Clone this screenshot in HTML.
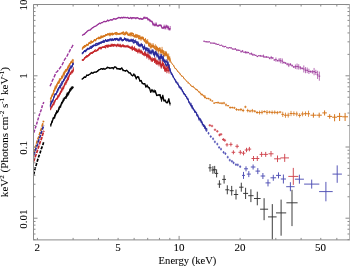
<!DOCTYPE html>
<html><head><meta charset="utf-8"><style>
html,body{margin:0;padding:0;background:#fff;width:350px;height:266px;overflow:hidden;}
svg{display:block;font-family:"Liberation Serif",serif;}
</style></head><body>
<svg width="350" height="266" viewBox="0 0 350 266">
<rect width="350" height="266" fill="#fff"/>
<g><path d="M33.75,132.65L35.10,128.66L36.31,125.04L37.42,121.27L38.66,117.28L39.92,113.03L41.28,109.85L42.44,105.34L43.84,102.15" stroke="#9c389c" stroke-width="1.5" fill="none" stroke-dasharray="3 1.3"/><path d="M33.72,152.40L35.11,148.11L36.33,144.41L37.38,140.31L38.69,137.07L39.92,132.89L41.32,128.75L42.55,124.50L43.67,120.71" stroke="#d5761c" stroke-width="1.7" fill="none" stroke-dasharray="3.5 1"/><path d="M33.75,155.43L34.91,151.77L36.21,147.67L37.58,144.26L38.67,140.32L40.02,136.81L41.34,132.41L42.68,128.43L43.78,125.26" stroke="#2a2a9c" stroke-width="1.7" fill="none" stroke-dasharray="3.5 1"/><path d="M33.60,161.49L34.85,157.79L36.35,153.82L37.68,149.69L38.91,146.09L40.16,142.08L41.53,138.69L42.70,134.54L43.87,130.70" stroke="#c4262a" stroke-width="1.7" fill="none" stroke-dasharray="3.5 1"/><path d="M33.74,174.49L35.08,168.45L36.24,164.82L37.42,160.68L38.75,156.44L40.01,153.20L41.31,148.81L42.68,145.56L43.87,141.25" stroke="#000000" stroke-width="1.7" fill="none" stroke-dasharray="3 1.4"/><path d="M50.01,86.31L51.30,83.59L52.40,80.52L53.65,78.20L55.02,74.87L56.05,72.40L57.29,71.45L58.61,69.89L59.69,68.36L61.01,66.51L62.37,64.39L63.49,62.04L64.76,59.30L66.04,57.64L67.26,55.56L68.37,53.16L69.53,51.29L70.74,48.77L72.00,46.79L73.26,44.64" stroke="#9c389c" stroke-width="1.4" fill="none" stroke-dasharray="3.6 1.3"/><path d="M50.40,99.00L51.21,97.43L52.03,95.27L52.84,94.81L53.66,90.83L54.47,89.16L55.29,89.01L56.10,86.42L56.91,83.90L57.73,83.32L58.54,83.45L59.36,79.71L60.17,79.92L60.99,78.67L61.80,77.32L62.61,77.02L63.43,73.90L64.24,72.27L65.06,72.01L65.87,70.02L66.69,70.13L67.50,68.99L68.31,67.71L69.13,64.83L69.94,64.15L70.76,62.13L71.57,61.81L72.39,62.89L73.20,61.81" stroke="#d5761c" stroke-width="1.0" fill="none" stroke-linejoin="round"/><path d="M50.40,98.42V99.58M51.21,96.59V98.26M52.03,93.82V96.71M52.84,94.23V95.38M53.66,90.01V91.65M54.47,88.61V89.71M55.29,87.42V90.60M56.10,85.44V87.40M56.91,83.37V84.42M57.73,82.60V84.03M58.54,82.85V84.04M59.36,78.17V81.26M60.17,79.35V80.50M60.99,78.24V79.10M61.80,75.75V78.90M62.61,75.79V78.26M63.43,73.06V74.74M64.24,70.95V73.60M65.06,70.67V73.34M65.87,69.36V70.69M66.69,68.55V71.71M67.50,67.63V70.36M68.31,66.42V69.00M69.13,63.81V65.85M69.94,63.72V64.59M70.76,61.40V62.87M71.57,60.58V63.04M72.39,61.95V63.83M73.20,60.23V63.40" stroke="#d5761c" stroke-width="0.75" fill="none"/><path d="M50.40,101.87L51.21,97.78L52.03,95.78L52.84,94.84L53.66,92.59L54.47,90.03L55.29,86.72L56.10,87.75L56.91,85.89L57.73,82.82L58.54,81.96L59.36,82.56L60.17,79.54L60.99,79.21L61.80,76.12L62.61,77.15L63.43,73.55L64.24,74.71L65.06,71.46L65.87,69.43L66.69,70.61L67.50,68.02L68.31,66.56L69.13,66.63L69.94,63.84L70.76,62.77L71.57,61.81L72.39,60.41L73.20,60.06" stroke="#d5761c" stroke-width="1.0" fill="none" stroke-linejoin="round"/><path d="M50.40,101.03V102.70M51.21,97.11V98.46M52.03,95.13V96.42M52.84,93.35V96.32M53.66,91.62V93.57M54.47,88.67V91.38M55.29,85.53V87.91M56.10,86.41V89.09M56.91,84.92V86.86M57.73,81.48V84.17M58.54,80.60V83.32M59.36,81.69V83.44M60.17,78.01V81.08M60.99,78.61V79.82M61.80,75.54V76.70M62.61,75.78V78.52M63.43,72.16V74.95M64.24,73.53V75.90M65.06,70.40V72.52M65.87,69.01V69.85M66.69,69.43V71.79M67.50,66.49V69.54M68.31,65.11V68.00M69.13,65.97V67.28M69.94,63.09V64.59M70.76,61.67V63.88M71.57,60.91V62.71M72.39,58.92V61.91M73.20,59.11V61.01" stroke="#d5761c" stroke-width="0.75" fill="none"/><path d="M50.40,105.25L51.22,103.05L52.04,101.56L52.86,99.93L53.69,98.00L54.51,95.07L55.33,94.03L56.15,94.20L56.97,91.54L57.79,90.80L58.61,88.03L59.44,87.03L60.26,87.16L61.08,85.09L61.90,84.70L62.72,82.36L63.54,80.62L64.36,79.00L65.19,77.66L66.01,76.90L66.83,76.22L67.65,73.68L68.47,73.12L69.29,69.58L70.11,68.05L70.94,66.67L71.76,67.42L72.58,64.15L73.40,64.28" stroke="#2a2a9c" stroke-width="1.0" fill="none" stroke-linejoin="round"/><path d="M50.40,103.76V106.74M51.22,101.54V104.55M52.04,100.53V102.60M52.86,99.50V100.35M53.69,97.38V98.62M54.51,93.71V96.43M55.33,93.06V95.00M56.15,93.13V95.26M56.97,90.52V92.57M57.79,89.46V92.14M58.61,86.96V89.10M59.44,86.30V87.76M60.26,86.16V88.17M61.08,83.78V86.40M61.90,83.77V85.63M62.72,81.35V83.36M63.54,79.39V81.85M64.36,77.96V80.04M65.19,76.13V79.19M66.01,75.45V78.35M66.83,75.51V76.93M67.65,72.14V75.21M68.47,72.56V73.69M69.29,68.65V70.51M70.11,67.36V68.74M70.94,65.46V67.87M71.76,65.94V68.89M72.58,62.89V65.41M73.40,63.71V64.85" stroke="#2a2a9c" stroke-width="0.75" fill="none"/><path d="M50.40,106.15L51.22,102.44L52.04,101.25L52.86,101.32L53.69,97.17L54.51,96.61L55.33,94.10L56.15,94.19L56.97,92.23L57.79,89.19L58.61,89.59L59.44,86.48L60.26,87.21L61.08,83.72L61.90,82.08L62.72,81.33L63.54,80.35L64.36,80.10L65.19,76.67L66.01,76.52L66.83,73.66L67.65,74.06L68.47,70.82L69.29,71.12L70.11,68.08L70.94,66.65L71.76,66.43L72.58,65.34L73.40,63.10" stroke="#2a2a9c" stroke-width="1.0" fill="none" stroke-linejoin="round"/><path d="M50.40,104.59V107.71M51.22,100.90V103.99M52.04,100.27V102.24M52.86,99.93V102.72M53.69,96.25V98.09M54.51,95.80V97.42M55.33,93.32V94.88M56.15,93.76V94.61M56.97,91.30V93.16M57.79,88.39V89.99M58.61,88.57V90.60M59.44,84.90V88.06M60.26,85.65V88.78M61.08,83.00V84.44M61.90,80.74V83.41M62.72,80.77V81.88M63.54,78.85V81.84M64.36,79.39V80.81M65.19,75.17V78.17M66.01,75.27V77.76M66.83,73.19V74.13M67.65,73.15V74.97M68.47,69.30V72.35M69.29,69.76V72.48M70.11,66.65V69.51M70.94,65.21V68.08M71.76,65.62V67.23M72.58,63.83V66.86M73.40,62.55V63.66" stroke="#2a2a9c" stroke-width="0.75" fill="none"/><path d="M50.60,109.58L51.41,106.90L52.23,105.30L53.04,104.66L53.86,104.58L54.67,102.38L55.49,100.49L56.30,98.78L57.11,98.81L57.93,95.76L58.74,96.58L59.56,94.82L60.37,92.45L61.19,90.76L62.00,90.27L62.81,87.85L63.63,87.54L64.44,85.21L65.26,82.70L66.07,81.23L66.89,80.23L67.70,78.13L68.51,78.90L69.33,75.58L70.14,74.13L70.96,72.33L71.77,71.33L72.59,72.18L73.40,68.73" stroke="#c4262a" stroke-width="1.0" fill="none" stroke-linejoin="round"/><path d="M50.60,108.89V110.27M51.41,106.31V107.50M52.23,104.66V105.94M53.04,103.90V105.43M53.86,103.83V105.33M54.67,101.76V102.99M55.49,100.07V100.92M56.30,98.36V99.20M57.11,97.75V99.87M57.93,94.79V96.73M58.74,96.05V97.10M59.56,93.90V95.74M60.37,91.05V93.86M61.19,89.76V91.77M62.00,88.69V91.84M62.81,86.45V89.24M63.63,86.38V88.70M64.44,84.39V86.03M65.26,82.14V83.25M66.07,79.94V82.52M66.89,79.63V80.82M67.70,76.72V79.54M68.51,77.70V80.11M69.33,74.89V76.27M70.14,73.18V75.08M70.96,71.39V73.26M71.77,69.77V72.88M72.59,71.13V73.24M73.40,67.17V70.29" stroke="#c4262a" stroke-width="0.75" fill="none"/><path d="M50.60,108.93L51.41,106.58L52.23,106.57L53.04,104.33L53.86,102.32L54.67,101.15L55.49,99.58L56.30,98.94L57.11,98.37L57.93,97.44L58.74,95.92L59.56,93.53L60.37,93.92L61.19,91.76L62.00,88.33L62.81,89.49L63.63,87.62L64.44,84.41L65.26,84.05L66.07,83.43L66.89,81.21L67.70,79.93L68.51,76.98L69.33,75.13L70.14,73.56L70.96,73.53L71.77,72.42L72.59,70.73L73.40,70.39" stroke="#c4262a" stroke-width="1.0" fill="none" stroke-linejoin="round"/><path d="M50.60,108.10V109.76M51.41,105.72V107.44M52.23,105.57V107.58M53.04,103.32V105.33M53.86,101.60V103.03M54.67,100.27V102.03M55.49,99.15V100.01M56.30,98.26V99.62M57.11,97.33V99.40M57.93,96.25V98.63M58.74,94.47V97.38M59.56,92.74V94.32M60.37,93.34V94.50M61.19,90.58V92.93M62.00,86.93V89.74M62.81,88.34V90.65M63.63,86.25V88.99M64.44,83.38V85.44M65.26,82.64V85.45M66.07,82.04V84.82M66.89,79.74V82.68M67.70,78.69V81.16M68.51,76.54V77.42M69.33,74.30V75.97M70.14,72.16V74.96M70.96,72.38V74.69M71.77,71.20V73.63M72.59,70.33V71.14M73.40,69.10V71.69" stroke="#c4262a" stroke-width="0.75" fill="none"/><path d="M50.80,124.51L51.62,123.29L52.44,121.81L53.27,118.12L54.09,118.40L54.91,116.78L55.73,114.41L56.56,112.78L57.38,112.10L58.20,110.21L59.02,107.22L59.84,107.53L60.67,105.54L61.49,102.58L62.31,102.99L63.13,101.60L63.96,99.75L64.78,98.26L65.60,98.23L66.42,97.22L67.24,93.11L68.07,94.30L68.89,92.00L69.71,90.10L70.53,88.94L71.36,87.57L72.18,88.84L73.00,87.26" stroke="#000000" stroke-width="1.0" fill="none" stroke-linejoin="round"/><path d="M50.80,123.47V125.55M51.62,122.81V123.76M52.44,121.11V122.51M53.27,117.40V118.84M54.09,117.76V119.05M54.91,115.21V118.35M55.73,113.55V115.27M56.56,111.56V114.00M57.38,110.96V113.24M58.20,109.72V110.70M59.02,106.52V107.93M59.84,106.77V108.30M60.67,105.13V105.96M61.49,101.86V103.30M62.31,101.76V104.22M63.13,100.86V102.35M63.96,98.80V100.71M64.78,97.72V98.80M65.60,97.59V98.87M66.42,95.70V98.75M67.24,92.16V94.06M68.07,92.74V95.87M68.89,91.28V92.72M69.71,88.57V91.64M70.53,87.84V90.03M71.36,86.54V88.59M72.18,88.28V89.40M73.00,86.25V88.27" stroke="#000000" stroke-width="0.75" fill="none"/><path d="M50.80,125.66L51.62,122.00L52.44,121.06L53.27,117.91L54.09,117.57L54.91,114.98L55.73,113.88L56.56,111.34L57.38,112.31L58.20,111.06L59.02,109.49L59.84,106.42L60.67,106.84L61.49,103.48L62.31,101.80L63.13,99.88L63.96,99.06L64.78,97.61L65.60,97.09L66.42,95.41L67.24,95.71L68.07,93.74L68.89,93.47L69.71,91.63L70.53,90.50L71.36,89.40L72.18,86.84L73.00,87.58" stroke="#000000" stroke-width="1.0" fill="none" stroke-linejoin="round"/><path d="M50.80,124.42V126.90M51.62,120.52V123.48M52.44,120.63V121.49M53.27,116.92V118.90M54.09,116.81V118.33M54.91,114.17V115.79M55.73,112.47V115.28M56.56,110.04V112.65M57.38,111.77V112.86M58.20,109.80V112.32M59.02,108.74V110.23M59.84,105.55V107.29M60.67,105.73V107.94M61.49,102.57V104.39M62.31,101.34V102.26M63.13,98.48V101.28M63.96,97.54V100.58M64.78,96.89V98.33M65.60,96.46V97.71M66.42,93.86V96.96M67.24,94.33V97.08M68.07,92.24V95.23M68.89,92.42V94.53M69.71,91.17V92.09M70.53,89.56V91.44M71.36,88.23V90.57M72.18,86.38V87.30M73.00,87.03V88.13" stroke="#000000" stroke-width="0.75" fill="none"/><path d="M82.30,35.57L83.31,34.48L84.32,34.25L85.33,33.08L86.34,32.21L87.35,31.11L88.36,30.48L89.37,30.12L90.38,29.89L91.39,28.79L92.40,27.86L93.41,27.33L94.42,26.54L95.43,26.20L96.44,25.72L97.46,24.73L98.47,24.08L99.48,23.17L100.49,23.60L101.50,22.64L102.51,22.61L103.52,21.61L104.53,21.41L105.54,21.71L106.55,21.34L107.56,20.14L108.57,20.85L109.58,20.24L110.59,19.75L111.60,19.99L112.61,19.91L113.62,18.64L114.63,18.90L115.64,19.19L116.65,18.63L117.66,18.21L118.67,17.52L119.68,17.63L120.69,18.07L121.70,17.29L122.71,17.92L123.72,17.15L124.73,17.70L125.74,17.50L126.76,17.82L127.77,17.38L128.78,18.40L129.79,18.32L130.80,17.35L131.81,18.58L132.82,17.58L133.83,17.97L134.84,17.92L135.85,18.42L136.86,17.72L137.87,17.99L138.88,18.69L139.89,18.96L140.90,18.42L141.91,19.32L142.92,18.98L143.93,17.66L144.94,17.77L145.95,18.19L146.96,17.72L147.97,19.37L148.98,19.48L149.99,20.62L151.00,21.15L152.01,21.58L153.02,24.26L154.03,24.41L155.04,25.45L156.06,23.91L157.07,25.79L158.08,25.90L159.09,25.38L160.10,25.06L161.11,25.64L162.12,27.93L163.13,28.21L164.14,26.54L165.15,28.28L166.16,25.99L167.17,27.31L168.18,26.93L169.19,29.65L170.20,28.18" stroke="#9a3498" stroke-width="1.3" fill="none" stroke-linejoin="round"/><path d="M82.30,35.37V35.78M83.31,34.16V34.80M84.32,34.07V34.43M85.33,32.89V33.27M86.34,31.99V32.43M87.35,30.96V31.26M88.36,30.11V30.86M89.37,29.96V30.29M90.38,29.49V30.30M91.39,28.64V28.93M92.40,27.73V27.99M93.41,27.20V27.46M94.42,26.35V26.72M95.43,25.81V26.58M96.44,25.48V25.95M97.46,24.45V25.00M98.47,23.86V24.29M99.48,22.97V23.37M100.49,23.44V23.75M101.50,22.32V22.97M102.51,22.43V22.80M103.52,21.41V21.81M104.53,21.14V21.69M105.54,21.29V22.14M106.55,21.21V21.47M107.56,19.75V20.53M108.57,20.54V21.15M109.58,20.11V20.37M110.59,19.25V20.24M111.60,19.51V20.47M112.61,19.67V20.15M113.62,18.43V18.84M114.63,18.46V19.34M115.64,18.73V19.66M116.65,18.13V19.13M117.66,17.80V18.63M118.67,16.98V18.05M119.68,17.01V18.24M120.69,17.74V18.39M121.70,16.98V17.59M122.71,17.37V18.47M123.72,16.93V17.37M124.73,17.19V18.22M125.74,17.18V17.82M126.76,17.61V18.02M127.77,16.90V17.87M128.78,17.78V19.01M129.79,17.80V18.85M130.80,16.97V17.74M131.81,17.87V19.29M132.82,17.33V17.83M133.83,17.24V18.70M134.84,17.47V18.36M135.85,17.46V19.39M136.86,17.43V18.01M137.87,17.37V18.60M138.88,18.24V19.13M139.89,18.04V19.89M140.90,17.94V18.90M141.91,18.74V19.91M142.92,18.45V19.51M143.93,16.61V18.72M144.94,16.49V19.04M145.95,17.66V18.73M146.96,16.93V18.51M147.97,17.99V20.76M148.98,18.67V20.29M149.99,19.12V22.11M151.00,20.70V21.60M152.01,20.70V22.46M153.02,22.75V25.77M154.03,22.72V26.11M155.04,24.58V26.32M156.06,22.20V25.62M157.07,25.29V26.30M158.08,24.89V26.91M159.09,24.41V26.35M160.10,24.56V25.57M161.11,24.59V26.69M162.12,27.21V28.65M163.13,27.34V29.08M164.14,24.63V28.45M165.15,26.98V29.58M166.16,24.59V27.40M167.17,25.07V29.54M168.18,25.66V28.21M169.19,28.96V30.33M170.20,25.98V30.38" stroke="#9a3498" stroke-width="0.75" fill="none"/><path d="M82.30,49.53L83.41,46.47L84.52,47.21L85.62,46.06L86.73,44.50L87.84,45.02L88.95,42.92L90.05,42.35L91.16,41.06L92.27,42.25L93.38,41.67L94.48,39.63L95.59,40.52L96.70,38.80L97.81,38.35L98.91,38.85L100.02,38.10L101.13,37.67L102.24,36.78L103.34,35.77L104.45,36.37L105.56,34.79L106.67,34.60L107.77,33.87L108.88,34.28L109.99,35.31L111.10,33.77L112.21,33.23L113.31,34.48L114.42,33.25L115.53,34.02L116.64,34.20L117.74,33.90L118.85,34.23L119.96,33.48L121.07,33.85L122.17,32.58L123.28,32.33L124.39,33.47L125.50,33.07L126.60,33.49L127.71,34.47L128.82,35.18L129.93,33.95L131.03,35.24L132.14,33.17L133.25,33.66L134.36,36.54L135.46,36.79L136.57,37.07L137.68,35.76L138.79,38.73L139.89,38.26L141.00,37.52L142.11,37.72L143.22,38.60L144.33,40.61L145.43,39.03L146.54,42.47L147.65,42.18L148.76,45.13L149.86,43.16L150.97,45.18L152.08,46.73L153.19,45.21L154.29,46.75L155.40,46.87L156.51,47.47L157.62,48.28L158.72,51.33L159.83,49.72L160.94,52.37L162.05,49.75L163.15,52.87L164.26,53.82L165.37,55.13L166.48,53.73L167.58,58.19L168.69,56.12L169.80,58.75" stroke="#d5761c" stroke-width="1.1" fill="none" stroke-linejoin="round"/><path d="M82.30,49.26V49.80M83.41,46.18V46.75M84.52,46.78V47.63M85.62,45.17V46.95M86.73,44.06V44.93M87.84,44.33V45.70M88.95,42.17V43.68M90.05,41.91V42.79M91.16,40.26V41.85M92.27,41.54V42.95M93.38,41.41V41.94M94.48,39.04V40.23M95.59,39.57V41.47M96.70,38.37V39.24M97.81,37.73V38.97M98.91,38.46V39.24M100.02,37.29V38.91M101.13,36.83V38.52M102.24,36.27V37.29M103.34,35.23V36.31M104.45,36.05V36.70M105.56,33.93V35.65M106.67,34.28V34.92M107.77,33.15V34.59M108.88,33.20V35.36M109.99,34.21V36.42M111.10,33.41V34.12M112.21,32.51V33.94M113.31,33.80V35.16M114.42,32.59V33.92M115.53,33.11V34.93M116.64,33.12V35.28M117.74,33.47V34.32M118.85,33.63V34.82M119.96,32.80V34.16M121.07,33.32V34.37M122.17,32.00V33.17M123.28,31.08V33.58M124.39,32.78V34.16M125.50,31.65V34.48M126.60,32.87V34.10M127.71,33.37V35.57M128.82,34.68V35.67M129.93,32.61V35.29M131.03,33.75V36.72M132.14,32.40V33.93M133.25,33.01V34.31M134.36,35.37V37.71M135.46,35.86V37.71M136.57,36.02V38.12M137.68,34.24V37.29M138.79,38.11V39.34M139.89,36.89V39.63M141.00,36.49V38.56M142.11,36.91V38.53M143.22,37.16V40.04M144.33,39.76V41.46M145.43,37.96V40.10M146.54,41.61V43.34M147.65,41.26V43.09M148.76,43.59V46.67M149.86,42.38V43.94M150.97,43.56V46.80M152.08,45.94V47.53M153.19,43.23V47.19M154.29,45.53V47.96M155.40,44.27V49.47M156.51,45.61V49.34M157.62,46.69V49.88M158.72,48.44V54.22M159.83,48.54V50.90M160.94,51.14V53.60M162.05,46.86V52.64M163.15,50.11V55.63M164.26,50.84V56.80M165.37,53.89V56.38M166.48,51.45V56.00M167.58,54.92V61.47M168.69,53.54V58.70M169.80,56.44V61.06" stroke="#d5761c" stroke-width="0.8" fill="none"/><path d="M82.30,48.29L83.41,47.44L84.52,45.58L85.62,46.17L86.73,44.21L87.84,44.99L88.95,43.37L90.05,43.58L91.16,42.87L92.27,42.06L93.38,41.36L94.48,39.98L95.59,40.26L96.70,38.46L97.81,38.53L98.91,37.19L100.02,37.94L101.13,36.05L102.24,37.10L103.34,36.86L104.45,35.98L105.56,35.71L106.67,34.97L107.77,34.72L108.88,34.54L109.99,33.41L111.10,34.27L112.21,34.73L113.31,33.90L114.42,33.81L115.53,32.87L116.64,32.65L117.74,33.53L118.85,33.73L119.96,33.89L121.07,33.28L122.17,33.23L123.28,34.38L124.39,34.19L125.50,33.96L126.60,32.64L127.71,33.60L128.82,34.97L129.93,34.84L131.03,33.01L132.14,35.27L133.25,35.98L134.36,36.06L135.46,35.46L136.57,35.00L137.68,36.55L138.79,35.75L139.89,36.81L141.00,39.09L142.11,37.82L143.22,38.11L144.33,40.56L145.43,42.20L146.54,42.11L147.65,41.38L148.76,44.48L149.86,46.09L150.97,47.60L152.08,45.57L153.19,46.40L154.29,48.19L155.40,49.13L156.51,48.95L157.62,49.34L158.72,48.73L159.83,48.13L160.94,51.82L162.05,52.29L163.15,51.38L164.26,55.11L165.37,52.69L166.48,54.23L167.58,55.88L168.69,58.96L169.80,60.22" stroke="#d5761c" stroke-width="1.1" fill="none" stroke-linejoin="round"/><path d="M82.30,47.85V48.74M83.41,46.53V48.35M84.52,44.99V46.18M85.62,45.24V47.11M86.73,43.88V44.55M87.84,44.04V45.93M88.95,43.09V43.65M90.05,43.05V44.10M91.16,42.17V43.56M92.27,41.70V42.42M93.38,40.95V41.76M94.48,39.11V40.85M95.59,39.88V40.65M96.70,37.91V39.00M97.81,37.99V39.06M98.91,36.76V37.63M100.02,37.01V38.87M101.13,35.36V36.73M102.24,36.81V37.38M103.34,36.51V37.21M104.45,35.29V36.68M105.56,35.20V36.22M106.67,34.23V35.70M107.77,33.92V35.53M108.88,33.91V35.18M109.99,32.61V34.20M111.10,33.79V34.75M112.21,33.78V35.69M113.31,33.46V34.35M114.42,33.41V34.20M115.53,32.18V33.56M116.64,31.94V33.36M117.74,33.18V33.87M118.85,33.34V34.13M119.96,32.81V34.97M121.07,32.90V33.67M122.17,32.52V33.95M123.28,33.90V34.86M124.39,32.80V35.59M125.50,32.73V35.19M126.60,31.20V34.08M127.71,32.16V35.04M128.82,34.40V35.54M129.93,33.36V36.31M131.03,32.19V33.82M132.14,34.67V35.87M133.25,35.22V36.74M134.36,35.46V36.67M135.46,33.83V37.10M136.57,34.20V35.80M137.68,35.66V37.45M138.79,35.03V36.48M139.89,34.99V38.64M141.00,37.28V40.90M142.11,36.13V39.50M143.22,36.77V39.44M144.33,39.46V41.65M145.43,40.76V43.64M146.54,40.08V44.13M147.65,39.12V43.64M148.76,43.21V45.75M149.86,45.02V47.16M150.97,45.93V49.27M152.08,43.51V47.64M153.19,45.41V47.38M154.29,47.44V48.95M155.40,47.95V50.32M156.51,46.22V51.68M157.62,47.22V51.45M158.72,48.01V49.46M159.83,47.06V49.21M160.94,50.07V53.57M162.05,49.42V55.16M163.15,50.03V52.72M164.26,54.24V55.98M165.37,50.96V54.41M166.48,52.45V56.00M167.58,53.46V58.29M168.69,57.51V60.41M169.80,57.99V62.45" stroke="#d5761c" stroke-width="0.8" fill="none"/><path d="M82.30,53.47L83.41,52.07L84.52,50.74L85.63,51.51L86.75,49.84L87.86,48.36L88.97,48.79L90.08,48.29L91.19,48.24L92.30,46.22L93.42,45.20L94.53,45.35L95.64,44.09L96.75,43.45L97.86,44.84L98.97,42.82L100.08,42.98L101.20,43.17L102.31,41.70L103.42,40.75L104.53,41.95L105.64,39.95L106.75,41.24L107.87,40.96L108.98,39.58L110.09,39.37L111.20,39.40L112.31,40.04L113.42,39.94L114.53,39.47L115.65,39.93L116.76,38.62L117.87,40.26L118.98,40.05L120.09,38.53L121.20,39.78L122.32,39.85L123.43,40.30L124.54,38.75L125.65,39.94L126.76,40.23L127.87,39.92L128.98,40.81L130.10,40.34L131.21,41.02L132.32,40.27L133.43,40.19L134.54,40.75L135.65,41.02L136.77,42.29L137.88,41.99L138.99,44.97L140.10,45.73L141.21,44.29L142.32,46.04L143.43,48.41L144.55,46.41L145.66,50.28L146.77,47.97L147.88,48.67L148.99,52.27L150.10,52.10L151.22,52.73L152.33,51.06L153.44,54.40L154.55,53.02L155.66,52.20L156.77,53.93L157.88,54.93L159.00,58.49L160.11,58.81L161.22,55.70L162.33,58.79L163.44,59.46L164.55,61.66L165.67,64.67L166.78,65.75L167.89,62.42L169.00,68.02" stroke="#2a2a9c" stroke-width="1.1" fill="none" stroke-linejoin="round"/><path d="M82.30,52.56V54.38M83.41,51.72V52.41M84.52,50.04V51.44M85.63,50.71V52.31M86.75,49.41V50.28M87.86,47.66V49.07M88.97,48.29V49.28M90.08,47.73V48.86M91.19,47.46V49.01M92.30,45.32V47.13M93.42,44.57V45.83M94.53,44.93V45.77M95.64,43.26V44.91M96.75,42.79V44.11M97.86,44.48V45.19M98.97,42.11V43.53M100.08,42.24V43.72M101.20,42.78V43.56M102.31,41.21V42.19M103.42,39.80V41.71M104.53,41.12V42.77M105.64,39.02V40.89M106.75,40.60V41.88M107.87,40.32V41.60M108.98,39.22V39.95M110.09,39.06V39.68M111.20,38.48V40.32M112.31,39.03V41.06M113.42,39.42V40.47M114.53,38.78V40.15M115.65,39.15V40.70M116.76,37.72V39.52M117.87,39.74V40.78M118.98,39.71V40.38M120.09,37.98V39.09M121.20,38.50V41.05M122.32,39.18V40.52M123.43,39.62V40.99M124.54,37.44V40.07M125.65,38.84V41.05M126.76,38.79V41.68M127.87,38.60V41.25M128.98,39.43V42.18M130.10,39.09V41.59M131.21,40.24V41.79M132.32,39.09V41.46M133.43,38.62V41.77M134.54,40.28V41.21M135.65,39.35V42.70M136.77,41.64V42.94M137.88,41.47V42.51M138.99,43.59V46.35M140.10,44.17V47.29M141.21,42.90V45.67M142.32,44.27V47.80M143.43,46.48V50.33M144.55,44.48V48.35M145.66,48.17V52.39M146.77,47.06V48.88M147.88,48.03V49.31M148.99,50.23V54.30M150.10,49.99V54.22M151.22,51.57V53.89M152.33,50.24V51.89M153.44,53.35V55.46M154.55,51.50V54.54M155.66,50.98V53.42M156.77,51.71V56.15M157.88,53.52V56.35M159.00,56.63V60.35M160.11,56.64V60.98M161.22,53.96V57.44M162.33,56.15V61.44M163.44,56.92V62.00M164.55,60.28V63.04M165.67,63.58V65.76M166.78,64.43V67.08M167.89,60.98V63.87M169.00,64.40V71.64" stroke="#2a2a9c" stroke-width="0.8" fill="none"/><path d="M82.30,53.21L83.41,52.56L84.52,50.92L85.63,50.46L86.75,49.56L87.86,48.91L88.97,49.06L90.08,47.22L91.19,46.51L92.30,47.13L93.42,46.38L94.53,45.34L95.64,45.78L96.75,45.24L97.86,43.33L98.97,44.26L100.08,42.72L101.20,41.96L102.31,42.16L103.42,42.24L104.53,41.02L105.64,40.27L106.75,41.06L107.87,39.71L108.98,40.79L110.09,39.13L111.20,40.63L112.31,38.90L113.42,39.93L114.53,38.54L115.65,38.66L116.76,39.23L117.87,38.72L118.98,40.28L120.09,38.14L121.20,38.16L122.32,40.46L123.43,39.92L124.54,38.64L125.65,38.55L126.76,39.48L127.87,39.73L128.98,40.79L130.10,40.90L131.21,39.77L132.32,40.84L133.43,42.70L134.54,42.06L135.65,42.01L136.77,43.49L137.88,44.41L138.99,45.50L140.10,45.54L141.21,45.14L142.32,45.10L143.43,48.27L144.55,48.47L145.66,48.45L146.77,49.93L147.88,50.86L148.99,49.62L150.10,52.69L151.22,52.14L152.33,50.80L153.44,51.83L154.55,55.76L155.66,52.56L156.77,55.11L157.88,55.61L159.00,57.84L160.11,56.65L161.22,56.60L162.33,58.57L163.44,58.29L164.55,60.69L165.67,61.47L166.78,61.27L167.89,64.80L169.00,65.64" stroke="#2a2a9c" stroke-width="1.1" fill="none" stroke-linejoin="round"/><path d="M82.30,52.62V53.80M83.41,51.75V53.38M84.52,50.33V51.52M85.63,49.62V51.30M86.75,48.64V50.48M87.86,48.51V49.30M88.97,48.46V49.66M90.08,46.51V47.92M91.19,45.70V47.33M92.30,46.31V47.95M93.42,45.88V46.89M94.53,44.80V45.87M95.64,45.47V46.09M96.75,44.98V45.51M97.86,42.88V43.77M98.97,43.64V44.89M100.08,41.79V43.64M101.20,41.36V42.57M102.31,41.32V43.00M103.42,41.48V43.00M104.53,40.50V41.54M105.64,39.34V41.21M106.75,40.19V41.93M107.87,39.08V40.34M108.98,40.03V41.54M110.09,38.47V39.80M111.20,40.15V41.12M112.31,38.35V39.45M113.42,38.89V40.96M114.53,38.10V38.98M115.65,38.06V39.26M116.76,38.78V39.69M117.87,38.23V39.21M118.98,39.26V41.30M120.09,36.88V39.41M121.20,37.45V38.88M122.32,39.31V41.61M123.43,39.13V40.72M124.54,37.61V39.67M125.65,37.96V39.13M126.76,39.08V39.89M127.87,38.46V41.00M128.98,39.83V41.76M130.10,39.96V41.84M131.21,38.64V40.90M132.32,39.52V42.17M133.43,41.73V43.66M134.54,40.66V43.47M135.65,41.26V42.75M136.77,41.85V45.14M137.88,42.97V45.85M138.99,44.05V46.94M140.10,44.39V46.69M141.21,43.70V46.58M142.32,43.95V46.26M143.43,46.63V49.92M144.55,47.53V49.41M145.66,47.15V49.75M146.77,48.67V51.19M147.88,48.67V53.06M148.99,47.87V51.38M150.10,51.37V54.01M151.22,49.70V54.59M152.33,49.12V52.48M153.44,49.64V54.02M154.55,54.04V57.48M155.66,50.69V54.43M156.77,52.89V57.34M157.88,53.50V57.72M159.00,55.94V59.74M160.11,53.73V59.57M161.22,54.23V58.97M162.33,55.95V61.19M163.44,55.06V61.52M164.55,59.71V61.67M165.67,59.59V63.36M166.78,59.29V63.25M167.89,62.02V67.58M169.00,63.99V67.29" stroke="#2a2a9c" stroke-width="0.8" fill="none"/><path d="M82.30,59.70L83.41,60.09L84.52,57.89L85.63,57.30L86.75,55.89L87.86,56.10L88.97,54.63L90.08,53.45L91.19,53.00L92.30,53.19L93.42,51.90L94.53,51.41L95.64,51.31L96.75,50.73L97.86,49.26L98.97,48.77L100.08,47.43L101.20,47.44L102.31,47.08L103.42,47.07L104.53,47.30L105.64,47.60L106.75,45.65L107.87,47.10L108.98,45.34L110.09,46.13L111.20,44.67L112.31,45.84L113.42,44.55L114.53,44.75L115.65,44.97L116.76,46.23L117.87,44.69L118.98,45.80L120.09,46.09L121.20,46.55L122.32,45.34L123.43,46.32L124.54,46.28L125.65,46.73L126.76,46.05L127.87,46.87L128.98,47.09L130.10,47.51L131.21,48.02L132.32,46.92L133.43,48.62L134.54,49.62L135.65,49.20L136.77,51.44L137.88,50.94L138.99,49.51L140.10,52.14L141.21,51.56L142.32,52.76L143.43,54.74L144.55,54.79L145.66,54.10L146.77,54.88L147.88,56.17L148.99,55.65L150.10,57.16L151.22,59.49L152.33,60.25L153.44,59.63L154.55,60.38L155.66,61.78L156.77,61.07L157.88,61.66L159.00,63.97L160.11,61.84L161.22,66.72L162.33,63.26L163.44,63.73L164.55,69.27L165.67,68.63L166.78,70.79L167.89,69.92L169.00,71.14" stroke="#c4262a" stroke-width="1.1" fill="none" stroke-linejoin="round"/><path d="M82.30,58.99V60.41M83.41,59.52V60.66M84.52,57.14V58.64M85.63,56.94V57.66M86.75,55.15V56.62M87.86,55.46V56.74M88.97,54.04V55.22M90.08,52.59V54.32M91.19,52.35V53.65M92.30,52.42V53.96M93.42,51.48V52.33M94.53,51.10V51.72M95.64,50.85V51.78M96.75,50.32V51.15M97.86,48.85V49.66M98.97,48.41V49.13M100.08,46.69V48.17M101.20,47.04V47.85M102.31,46.50V47.66M103.42,46.37V47.77M104.53,46.79V47.81M105.64,46.72V48.48M106.75,44.78V46.52M107.87,46.25V47.95M108.98,44.45V46.24M110.09,45.86V46.40M111.20,43.65V45.69M112.31,45.37V46.31M113.42,44.16V44.94M114.53,43.82V45.68M115.65,44.55V45.38M116.76,45.25V47.21M117.87,43.61V45.78M118.98,44.79V46.81M120.09,44.96V47.23M121.20,45.44V47.65M122.32,44.35V46.33M123.43,45.26V47.38M124.54,45.05V47.50M125.65,46.11V47.35M126.76,45.55V46.55M127.87,46.45V47.30M128.98,46.56V47.62M130.10,46.57V48.45M131.21,46.63V49.41M132.32,45.52V48.32M133.43,47.53V49.72M134.54,48.15V51.09M135.65,48.24V50.17M136.77,50.90V51.98M137.88,49.63V52.25M138.99,48.21V50.82M140.10,50.35V53.94M141.21,49.64V53.48M142.32,51.54V53.99M143.43,54.17V55.30M144.55,53.28V56.30M145.66,52.17V56.04M146.77,53.54V56.22M147.88,54.28V58.05M148.99,54.30V56.99M150.10,55.56V58.75M151.22,58.34V60.65M152.33,58.85V61.64M153.44,58.46V60.81M154.55,57.77V62.99M155.66,59.48V64.08M156.77,59.71V62.44M157.88,59.68V63.63M159.00,61.51V66.44M160.11,59.45V64.23M161.22,64.68V68.76M162.33,61.76V64.77M163.44,62.45V65.00M164.55,66.91V71.62M165.67,65.75V71.51M166.78,68.31V73.27M167.89,67.33V72.51M169.00,68.57V73.70" stroke="#c4262a" stroke-width="0.8" fill="none"/><path d="M82.30,60.53L83.41,59.60L84.52,58.87L85.63,56.92L86.75,57.05L87.86,55.82L88.97,55.27L90.08,54.06L91.19,52.91L92.30,52.28L93.42,52.22L94.53,50.51L95.64,49.85L96.75,50.66L97.86,50.26L98.97,48.00L100.08,48.53L101.20,48.77L102.31,47.29L103.42,47.48L104.53,46.32L105.64,45.80L106.75,45.78L107.87,45.47L108.98,45.32L110.09,46.30L111.20,46.15L112.31,44.58L113.42,45.84L114.53,45.81L115.65,45.58L116.76,45.26L117.87,44.88L118.98,46.05L120.09,44.59L121.20,46.62L122.32,45.61L123.43,45.44L124.54,46.40L125.65,46.26L126.76,46.57L127.87,45.97L128.98,46.81L130.10,47.88L131.21,47.60L132.32,49.56L133.43,48.91L134.54,47.85L135.65,50.18L136.77,49.52L137.88,52.00L138.99,51.34L140.10,51.32L141.21,51.71L142.32,53.07L143.43,54.43L144.55,52.25L145.66,54.41L146.77,56.55L147.88,54.34L148.99,57.98L150.10,57.75L151.22,59.59L152.33,59.65L153.44,58.97L154.55,60.58L155.66,59.77L156.77,63.80L157.88,63.08L159.00,63.17L160.11,62.88L161.22,66.26L162.33,63.46L163.44,67.70L164.55,67.45L165.67,69.86L166.78,68.39L167.89,67.49L169.00,68.15" stroke="#c4262a" stroke-width="1.1" fill="none" stroke-linejoin="round"/><path d="M82.30,60.17V60.89M83.41,59.08V60.12M84.52,58.58V59.15M85.63,56.68V57.17M86.75,56.22V57.87M87.86,55.36V56.29M88.97,54.52V56.01M90.08,53.67V54.46M91.19,52.41V53.41M92.30,51.77V52.79M93.42,51.37V53.07M94.53,49.90V51.12M95.64,49.55V50.16M96.75,50.04V51.28M97.86,49.73V50.80M98.97,47.50V48.50M100.08,47.64V49.42M101.20,48.19V49.34M102.31,46.98V47.60M103.42,47.09V47.87M104.53,46.07V46.58M105.64,45.05V46.55M106.75,44.81V46.75M107.87,44.56V46.38M108.98,45.05V45.59M110.09,45.85V46.76M111.20,45.74V46.57M112.31,43.68V45.47M113.42,44.87V46.82M114.53,45.46V46.16M115.65,44.69V46.47M116.76,44.16V46.36M117.87,43.73V46.03M118.98,45.74V46.36M120.09,43.68V45.50M121.20,46.23V47.01M122.32,44.58V46.63M123.43,44.26V46.61M124.54,46.00V46.79M125.65,45.32V47.20M126.76,45.50V47.64M127.87,44.75V47.19M128.98,45.73V47.90M130.10,47.03V48.73M131.21,46.30V48.90M132.32,48.23V50.89M133.43,48.14V49.67M134.54,46.21V49.49M135.65,48.69V51.67M136.77,48.28V50.76M137.88,50.43V53.57M138.99,50.45V52.23M140.10,49.58V53.05M141.21,50.23V53.20M142.32,51.23V54.91M143.43,53.48V55.37M144.55,51.31V53.19M145.66,52.92V55.90M146.77,54.52V58.57M147.88,52.35V56.32M148.99,55.88V60.08M150.10,56.66V58.84M151.22,57.49V61.69M152.33,57.29V62.01M153.44,58.15V59.78M154.55,58.33V62.84M155.66,57.55V61.98M156.77,62.61V64.99M157.88,60.91V65.26M159.00,61.98V64.36M160.11,60.43V65.33M161.22,64.42V68.10M162.33,60.75V66.17M163.44,66.32V69.08M164.55,64.38V70.53M165.67,67.67V72.06M166.78,65.96V70.81M167.89,66.08V68.91M169.00,65.29V71.00" stroke="#c4262a" stroke-width="0.8" fill="none"/><path d="M82.00,79.21L83.21,78.29L84.41,76.98L85.62,77.27L86.82,75.18L88.03,75.39L89.23,74.50L90.44,73.83L91.64,72.57L92.85,73.25L94.05,72.28L95.26,72.09L96.47,71.85L97.67,71.17L98.88,69.82L100.08,69.29L101.29,68.70L102.49,69.14L103.70,68.69L104.90,69.24L106.11,68.51L107.32,67.47L108.52,67.55L109.73,68.14L110.93,68.09L112.14,67.57L113.34,68.56L114.55,67.01L115.75,67.11L116.96,68.64L118.16,68.75L119.37,68.98L120.58,69.02L121.78,68.01L122.99,70.20L124.19,70.55L125.40,70.95L126.60,70.36L127.81,71.53L129.01,72.93L130.22,72.97L131.42,74.96L132.63,75.77L133.84,74.35L135.04,75.63L136.25,78.46L137.45,76.76L138.66,77.37L139.86,80.90L141.07,80.62L142.27,83.26L143.48,83.86L144.68,83.58L145.89,86.78L147.10,85.72L148.30,87.43L149.51,88.07L150.71,92.09L151.92,89.96L153.12,91.44L154.33,91.22L155.53,91.68L156.74,95.44L157.95,95.21L159.15,94.76L160.36,95.96L161.56,100.03L162.77,95.62L163.97,100.74L165.18,100.43L166.38,102.67L167.59,102.40L168.79,99.01L170.00,104.13" stroke="#000000" stroke-width="1.35" fill="none" stroke-linejoin="round"/><path d="M82.00,78.67V79.75M83.21,77.78V78.80M84.41,76.75V77.21M85.62,76.84V77.69M86.82,74.60V75.76M88.03,75.10V75.69M89.23,74.09V74.91M90.44,73.61V74.04M91.64,71.76V73.38M92.85,72.75V73.76M94.05,71.91V72.65M95.26,71.61V72.56M96.47,71.15V72.54M97.67,70.35V71.99M98.88,69.58V70.05M100.08,68.96V69.62M101.29,68.45V68.95M102.49,68.35V69.93M103.70,67.84V69.54M104.90,68.97V69.51M106.11,68.01V69.00M107.32,66.57V68.36M108.52,66.92V68.18M109.73,67.22V69.05M110.93,67.57V68.61M112.14,67.21V67.93M113.34,67.59V69.54M114.55,66.74V67.29M115.75,66.59V67.63M116.96,67.69V69.59M118.16,68.45V69.05M119.37,68.15V69.81M120.58,67.96V70.09M121.78,67.62V68.40M122.99,69.13V71.26M124.19,70.02V71.09M125.40,70.01V71.89M126.60,69.78V70.94M127.81,71.12V71.93M129.01,72.48V73.39M130.22,72.53V73.41M131.42,74.63V75.28M132.63,75.27V76.28M133.84,73.12V75.58M135.04,74.37V76.88M136.25,77.23V79.70M137.45,75.95V77.56M138.66,76.05V78.69M139.86,79.88V81.93M141.07,79.88V81.35M142.27,82.36V84.16M143.48,83.33V84.40M144.68,83.13V84.03M145.89,85.75V87.82M147.10,84.28V87.15M148.30,86.53V88.33M149.51,87.33V88.82M150.71,91.25V92.93M151.92,88.90V91.02M153.12,89.83V93.05M154.33,89.48V92.97M155.53,90.01V93.34M156.74,94.69V96.19M157.95,94.34V96.08M159.15,93.99V95.52M160.36,94.04V97.89M161.56,98.17V101.90M162.77,94.68V96.56M163.97,100.14V101.34M165.18,99.45V101.41M166.38,102.11V103.22M167.59,101.31V103.50M168.79,98.45V99.56M170.00,102.68V105.57" stroke="#000000" stroke-width="0.8" fill="none"/><path d="M169.80,59.06L171.10,62.37L172.41,64.15L173.71,65.70L175.01,68.32L176.32,69.07L177.62,71.34L178.93,72.33L180.23,74.22L181.53,75.88L182.84,76.41L184.14,78.53L185.44,79.86L186.75,81.31L188.05,82.65L189.36,83.44L190.66,85.28L191.96,86.45L193.27,86.69L194.57,88.11L195.87,89.27L197.18,89.89L198.48,91.63L199.79,92.29L201.09,94.35L202.39,94.71L203.70,95.82L205.00,96.39" stroke="#d5761c" stroke-width="1.0" fill="none" stroke-linejoin="round"/><path d="M169.80,58.60V59.52M171.10,62.03V62.71M172.41,63.86V64.45M173.71,65.00V66.41M175.01,67.97V68.66M176.32,68.79V69.35M177.62,70.78V71.90M178.93,71.95V72.70M180.23,73.48V74.95M181.53,75.22V76.54M182.84,76.12V76.70M184.14,77.97V79.08M185.44,79.56V80.15M186.75,80.79V81.82M188.05,81.71V83.59M189.36,83.16V83.72M190.66,84.62V85.94M191.96,85.96V86.95M193.27,85.71V87.67M194.57,87.69V88.54M195.87,88.46V90.07M197.18,89.14V90.64M198.48,90.87V92.39M199.79,91.34V93.24M201.09,93.25V95.46M202.39,93.74V95.69M203.70,94.79V96.85M205.00,95.23V97.54" stroke="#d5761c" stroke-width="0.8" fill="none"/><path d="M204.10,97.49H205.90M205.89,98.42H207.71M207.70,98.60H209.54M209.53,99.89H211.40M211.39,100.98H213.27M213.26,103.14H215.17M215.16,102.62H217.10M217.08,102.64H219.04M219.03,103.14H221.01M221.00,103.24H223.00M222.99,103.07H225.02M225.01,104.91H227.06M227.05,105.70H229.12M229.11,107.57H231.21M231.20,107.56H233.33M233.31,107.86H235.47M235.45,109.49H237.63M237.62,109.83H239.82M239.81,109.60H242.04M242.03,110.46H244.29M244.27,106.91H246.56M246.54,110.56H248.86M248.84,111.12H251.18M251.17,110.72H253.54M253.52,111.22H255.92M255.90,112.47H258.33M258.32,112.57H260.77M260.76,112.30H263.24M263.22,111.53H265.74M265.72,112.34H268.27M268.25,112.12H270.83M270.81,112.42H273.42M273.40,112.29H276.04M276.02,112.67H278.69M278.67,112.10H281.37M281.36,114.35H284.09M284.07,115.24H286.84M286.82,115.18H289.62M289.60,113.54H292.44M292.42,113.66H295.29M295.27,113.95H298.17M298.15,115.39H301.09M301.07,113.97H304.04M304.02,113.69H307.03M307.01,113.77H310.05" stroke="#d5761c" stroke-width="1.0" fill="none"/><path d="M205.00,96.40V98.58M206.80,97.58V99.25M208.62,97.73V99.48M210.47,98.68V101.09M212.33,100.31V101.66M214.22,102.39V103.88M216.13,102.02V103.21M218.06,101.50V103.78M220.02,102.52V103.76M222.00,102.14V104.34M224.00,101.83V104.31M226.03,103.49V106.32M228.08,104.99V106.41M230.16,106.42V108.72M232.26,106.59V108.54M234.39,106.74V108.98M236.54,108.15V110.82M238.72,108.91V110.74M240.93,108.04V111.16M243.16,108.78V112.14M245.42,105.67V108.16M247.70,108.78V112.34M250.01,109.81V112.43M252.35,108.93V112.51M254.72,110.04V112.41M257.12,111.02V113.92M259.54,110.63V114.52M262.00,110.30V114.30M264.48,110.48V112.58M267.00,110.06V114.62M269.54,110.76V113.48M272.11,110.50V114.35M274.72,110.47V114.11M277.36,110.95V114.38M280.02,110.96V113.24M282.72,111.75V116.95M285.46,112.64V117.84M288.22,112.73V117.64M291.02,110.92V116.16M293.85,111.38V115.93M296.72,111.56V116.33M299.62,113.19V117.58M302.56,111.59V116.34M305.53,111.45V115.94M308.53,110.71V116.83" stroke="#d5761c" stroke-width="0.8" fill="none"/><path d="M310.50,115.20H316.30M313.40,112.70V117.70" stroke="#d5761c" stroke-width="1.0" fill="none"/><path d="M316.60,115.20H321.80M319.20,112.70V117.70" stroke="#d5761c" stroke-width="1.0" fill="none"/><path d="M322.30,112.90H326.90M324.60,110.40V115.50" stroke="#d5761c" stroke-width="1.0" fill="none"/><path d="M327.40,116.40H332.00M329.70,114.20V118.70" stroke="#d5761c" stroke-width="1.0" fill="none"/><path d="M332.10,117.20H337.10M334.60,114.20V121.30" stroke="#d5761c" stroke-width="1.0" fill="none"/><path d="M337.00,116.40H342.20M339.60,112.90V121.00" stroke="#d5761c" stroke-width="1.0" fill="none"/><path d="M342.20,116.80H348.00M345.10,112.90V121.00" stroke="#d5761c" stroke-width="1.0" fill="none"/><path d="M169.00,66.65L170.11,69.43L171.22,73.40L172.33,74.56L173.44,77.26L174.54,78.55L175.65,80.68L176.76,82.34L177.87,83.57L178.98,86.49L180.09,87.58L181.20,88.52L182.31,90.65L183.41,92.66L184.52,93.91L185.63,95.57L186.74,97.71L187.85,98.90L188.96,102.30L190.07,103.61L191.18,104.98L192.29,106.83L193.39,108.40L194.50,111.48L195.61,111.82L196.72,114.28L197.83,115.47L198.94,118.77L200.05,119.09L201.16,121.20L202.26,123.41L203.37,125.49L204.48,126.97L205.59,128.47L206.70,129.81" stroke="#2a2a9c" stroke-width="1.0" fill="none" stroke-linejoin="round"/><path d="M169.00,65.36V67.94M170.11,68.19V70.67M171.22,72.26V74.54M172.33,73.47V75.65M173.44,76.60V77.92M174.54,77.90V79.19M175.65,79.64V81.72M176.76,81.52V83.16M177.87,82.31V84.83M178.98,85.13V87.86M180.09,86.14V89.02M181.20,86.98V90.06M182.31,89.34V91.97M183.41,91.45V93.87M184.52,93.03V94.78M185.63,94.28V96.87M186.74,96.29V99.13M187.85,97.83V99.97M188.96,101.40V103.20M190.07,102.30V104.92M191.18,102.86V107.09M192.29,105.05V108.62M193.39,107.75V109.05M194.50,110.21V112.75M195.61,110.62V113.01M196.72,112.50V116.07M197.83,114.53V116.41M198.94,116.95V120.60M200.05,117.94V120.24M201.16,119.45V122.94M202.26,121.35V125.47M203.37,123.99V126.99M204.48,125.06V128.88M205.59,127.03V129.92M206.70,127.94V131.69" stroke="#2a2a9c" stroke-width="0.8" fill="none"/><path d="M169.00,67.75L170.35,71.33L171.69,74.10L173.04,76.43L174.39,79.08L175.73,81.68L177.08,83.37L178.43,85.01L179.77,87.40L181.12,88.75L182.46,90.76L183.81,93.61L185.16,95.29L186.50,96.96L187.85,99.14L189.20,102.19L190.54,105.06L191.89,107.17L193.24,109.58L194.58,110.81L195.93,112.24L197.28,115.40L198.62,118.20L199.97,119.65L201.31,121.74L202.66,124.15L204.01,125.60L205.35,127.44L206.70,129.62" stroke="#2a2a9c" stroke-width="0.9" fill="none" stroke-linejoin="round"/><path d="M169.00,67.33V68.16M170.35,71.02V71.64M171.69,73.25V74.96M173.04,75.20V77.65M174.39,78.36V79.80M175.73,80.51V82.86M177.08,82.67V84.08M178.43,84.22V85.81M179.77,86.76V88.04M181.12,87.83V89.67M182.46,90.07V91.45M183.81,92.35V94.87M185.16,94.45V96.13M186.50,96.26V97.65M187.85,98.13V100.15M189.20,101.72V102.67M190.54,104.31V105.81M191.89,105.81V108.52M193.24,108.95V110.21M194.58,109.34V112.28M195.93,111.78V112.69M197.28,114.39V116.41M198.62,116.83V119.56M199.97,118.00V121.31M201.31,120.67V122.82M202.66,123.23V125.07M204.01,124.40V126.80M205.35,125.77V129.12M206.70,128.48V130.75" stroke="#2a2a9c" stroke-width="0.7" fill="none"/><path d="M205.26,130.30H207.26M206.26,129.00V131.60" stroke="#4e4eb4" stroke-width="0.9" fill="none"/><path d="M207.54,133.27H209.54M208.54,131.97V134.57" stroke="#4e4eb4" stroke-width="0.9" fill="none"/><path d="M209.74,136.55H211.74M210.74,135.25V137.85" stroke="#4e4eb4" stroke-width="0.9" fill="none"/><path d="M212.08,138.82H214.08M213.08,137.52V140.12" stroke="#4e4eb4" stroke-width="0.9" fill="none"/><path d="M213.86,141.87H215.86M214.86,140.57V143.17" stroke="#4e4eb4" stroke-width="0.9" fill="none"/><path d="M216.30,144.09H218.30M217.30,142.79V145.39" stroke="#4e4eb4" stroke-width="0.9" fill="none"/><path d="M218.12,147.42H220.12M219.12,146.12V148.72" stroke="#4e4eb4" stroke-width="0.9" fill="none"/><path d="M220.00,149.12H222.00M221.00,147.82V150.42" stroke="#4e4eb4" stroke-width="0.9" fill="none"/><path d="M222.59,152.35H224.59M223.59,151.05V153.65" stroke="#4e4eb4" stroke-width="0.9" fill="none"/><path d="M224.41,153.65H226.41M225.41,152.35V154.95" stroke="#4e4eb4" stroke-width="0.9" fill="none"/><path d="M226.74,157.14H228.74M227.74,155.84V158.44" stroke="#4e4eb4" stroke-width="0.9" fill="none"/><path d="M228.79,160.14H230.79M229.79,158.84V161.44" stroke="#4e4eb4" stroke-width="0.9" fill="none"/><path d="M230.93,161.29H232.93M231.93,159.99V162.59" stroke="#4e4eb4" stroke-width="0.9" fill="none"/><path d="M232.59,162.82H234.59M233.59,161.52V164.12" stroke="#4e4eb4" stroke-width="0.9" fill="none"/><path d="M234.91,164.67H236.91M235.91,163.37V165.97" stroke="#4e4eb4" stroke-width="0.9" fill="none"/><path d="M236.81,164.89H238.81M237.81,163.59V166.19" stroke="#4e4eb4" stroke-width="0.9" fill="none"/><path d="M239.18,166.67H241.18M240.18,165.37V167.97" stroke="#4e4eb4" stroke-width="0.9" fill="none"/><path d="M244.00,168.80H248.00M246.00,166.30V171.30" stroke="#4e4eb4" stroke-width="0.95" fill="none"/><path d="M242.00,175.40H245.00M243.50,171.90V178.90" stroke="#4e4eb4" stroke-width="0.95" fill="none"/><path d="M246.80,174.10H250.80M248.80,171.10V177.10" stroke="#4e4eb4" stroke-width="0.95" fill="none"/><path d="M250.80,167.00H255.40M253.10,164.50V169.50" stroke="#4e4eb4" stroke-width="0.95" fill="none"/><path d="M255.50,171.10H260.10M257.80,168.10V174.10" stroke="#4e4eb4" stroke-width="0.95" fill="none"/><path d="M260.60,176.00H265.20M262.90,173.00V179.00" stroke="#4e4eb4" stroke-width="0.95" fill="none"/><path d="M265.50,182.90H270.50M268.00,179.40V186.40" stroke="#4e4eb4" stroke-width="0.95" fill="none"/><path d="M270.50,177.80H276.10M273.30,174.80V180.80" stroke="#4e4eb4" stroke-width="0.95" fill="none"/><path d="M276.00,175.40H281.00M278.50,172.40V178.40" stroke="#4e4eb4" stroke-width="0.95" fill="none"/><path d="M280.80,179.00H286.00M283.40,174.50V183.50" stroke="#4e4eb4" stroke-width="0.95" fill="none"/><path d="M286.20,186.70H294.60M290.40,182.20V191.20" stroke="#4e4eb4" stroke-width="0.95" fill="none"/><path d="M294.90,179.20H303.90M299.40,174.70V183.70" stroke="#4e4eb4" stroke-width="0.95" fill="none"/><path d="M304.10,184.10H319.30M311.70,179.60V188.60" stroke="#4e4eb4" stroke-width="0.95" fill="none"/><path d="M319.10,191.60H332.70M325.90,181.90V201.30" stroke="#4e4eb4" stroke-width="0.95" fill="none"/><path d="M332.50,174.10H341.90M337.20,165.40V182.80" stroke="#4e4eb4" stroke-width="0.95" fill="none"/><path d="M208.60,125.30H211.00M209.80,124.10V126.50" stroke="#d0464e" stroke-width="0.95" fill="none"/><path d="M210.80,126.00H213.20M212.00,124.80V127.20" stroke="#d0464e" stroke-width="0.95" fill="none"/><path d="M213.80,129.80H216.20M215.00,128.60V131.00" stroke="#d0464e" stroke-width="0.95" fill="none"/><path d="M216.10,131.30H218.50M217.30,130.10V132.50" stroke="#d0464e" stroke-width="0.95" fill="none"/><path d="M218.20,135.00H220.80M219.50,133.70V136.30" stroke="#d0464e" stroke-width="0.95" fill="none"/><path d="M219.70,134.30H222.30M221.00,133.00V135.60" stroke="#d0464e" stroke-width="0.95" fill="none"/><path d="M222.00,139.50H224.60M223.30,138.00V141.00" stroke="#d0464e" stroke-width="0.95" fill="none"/><path d="M223.50,140.30H226.10M224.80,138.80V141.80" stroke="#d0464e" stroke-width="0.95" fill="none"/><path d="M225.50,144.80H228.50M227.00,143.00V146.60" stroke="#d0464e" stroke-width="0.95" fill="none"/><path d="M229.30,144.40H232.50M230.90,142.40V146.40" stroke="#d0464e" stroke-width="0.95" fill="none"/><path d="M235.30,146.30H238.90M237.10,144.30V148.30" stroke="#d0464e" stroke-width="0.95" fill="none"/><path d="M231.60,152.30H235.20M233.40,150.30V154.30" stroke="#d0464e" stroke-width="0.95" fill="none"/><path d="M238.50,152.30H242.10M240.30,150.10V154.50" stroke="#d0464e" stroke-width="0.95" fill="none"/><path d="M241.70,153.20H245.30M243.50,151.00V155.40" stroke="#d0464e" stroke-width="0.95" fill="none"/><path d="M244.70,150.00H248.30M246.50,147.80V152.20" stroke="#d0464e" stroke-width="0.95" fill="none"/><path d="M247.60,149.10H251.20M249.40,146.90V151.30" stroke="#d0464e" stroke-width="0.95" fill="none"/><path d="M251.50,158.50H255.50M253.50,156.00V161.00" stroke="#d0464e" stroke-width="0.95" fill="none"/><path d="M255.30,158.50H259.30M257.30,156.00V161.00" stroke="#d0464e" stroke-width="0.95" fill="none"/><path d="M259.60,154.40H263.60M261.60,151.90V156.90" stroke="#d0464e" stroke-width="0.95" fill="none"/><path d="M263.50,154.40H267.90M265.70,151.90V156.90" stroke="#d0464e" stroke-width="0.95" fill="none"/><path d="M268.50,153.80H273.50M271.00,151.00V156.60" stroke="#d0464e" stroke-width="0.95" fill="none"/><path d="M274.10,158.80H280.90M277.50,155.50V162.10" stroke="#d0464e" stroke-width="0.95" fill="none"/><path d="M280.40,157.90H289.00M284.70,153.90V161.90" stroke="#d0464e" stroke-width="0.95" fill="none"/><path d="M288.30,176.40H298.30M293.30,167.90V184.90" stroke="#d0464e" stroke-width="0.95" fill="none"/><path d="M208.40,167.80H211.60M210.00,164.00V171.60" stroke="#333" stroke-width="0.95" fill="none"/><path d="M211.30,170.00H214.50M212.90,166.20V173.80" stroke="#333" stroke-width="0.95" fill="none"/><path d="M213.10,169.70H216.30M214.70,165.90V173.50" stroke="#333" stroke-width="0.95" fill="none"/><path d="M215.00,173.40H218.20M216.60,169.40V177.40" stroke="#333" stroke-width="0.95" fill="none"/><path d="M217.50,184.10H221.30M219.40,180.30V187.90" stroke="#333" stroke-width="0.95" fill="none"/><path d="M222.20,179.40H226.00M224.10,175.20V183.60" stroke="#333" stroke-width="0.95" fill="none"/><path d="M225.30,189.80H229.30M227.30,185.30V194.30" stroke="#333" stroke-width="0.95" fill="none"/><path d="M229.70,190.70H233.70M231.70,185.90V195.50" stroke="#333" stroke-width="0.95" fill="none"/><path d="M233.80,194.50H238.20M236.00,189.50V199.50" stroke="#333" stroke-width="0.95" fill="none"/><path d="M239.10,187.20H243.50M241.30,182.70V191.70" stroke="#333" stroke-width="0.95" fill="none"/><path d="M243.10,193.40H248.10M245.60,187.80V199.00" stroke="#333" stroke-width="0.95" fill="none"/><path d="M248.20,195.70H253.60M250.90,189.30V202.10" stroke="#333" stroke-width="0.95" fill="none"/><path d="M254.00,198.50H260.60M257.30,191.70V205.30" stroke="#333" stroke-width="0.95" fill="none"/><path d="M260.10,209.20H268.10M264.10,198.20V220.20" stroke="#333" stroke-width="0.95" fill="none"/><path d="M268.00,216.90H276.60M272.30,204.10V239.40" stroke="#333" stroke-width="0.95" fill="none"/><path d="M276.00,212.90H286.20M281.10,199.60V235.70" stroke="#333" stroke-width="0.95" fill="none"/><path d="M286.40,202.80H297.60M292.00,189.80V226.10" stroke="#333" stroke-width="0.95" fill="none"/><path d="M203.45,41.25H204.75M204.75,41.78H206.05M206.05,41.78H207.36M207.36,41.91H208.67M208.67,41.84H209.99M209.99,43.00H211.32M211.31,43.09H212.65M212.64,43.18H213.98M213.98,43.24H215.32M215.32,43.92H216.67M216.66,44.40H218.02M218.01,44.31H219.37M219.37,45.53H220.73M220.73,45.17H222.10M222.10,46.16H223.47M223.47,46.70H224.85M224.85,46.39H226.24M226.23,47.70H227.62M227.62,48.01H229.02M229.02,47.65H230.42M230.42,47.93H231.82M231.82,48.97H233.24M233.23,49.15H234.65M234.65,48.96H236.08M236.07,50.08H237.50M237.50,50.22H238.94M238.93,50.29H240.38M240.37,51.67H241.82M241.82,51.09H243.27M243.27,52.23H244.73M244.73,52.28H246.19M246.19,52.52H247.66M247.66,52.55H249.14M249.13,53.81H250.62M250.62,53.74H252.10M252.10,54.71H253.60M253.59,54.89H255.10M255.09,55.38H256.60M256.60,56.45H258.11M258.11,55.70H259.63M259.62,55.84H261.15M261.15,56.08H262.68M262.67,56.14H264.21M264.21,57.02H265.75M265.75,56.98H267.30M267.30,57.22H268.85M268.85,58.24H270.41M270.41,57.65H271.98M271.98,58.01H273.55M273.55,59.97H275.13M275.13,59.61H276.71M276.71,60.67H278.30M278.30,60.12H279.90M279.90,60.72H281.51M281.50,61.13H283.12M283.11,62.55H284.73M284.73,63.09H286.35M286.35,64.12H287.98M287.98,64.98H289.62M289.62,64.38H291.26M291.26,65.63H292.91M292.91,66.97H294.57M294.56,66.73H296.23M296.23,66.43H297.90M297.89,66.89H299.57M299.57,67.83H301.26M301.25,68.38H302.95M302.94,68.98H304.64M304.64,70.18H306.34M306.34,70.29H308.05M308.05,71.39H309.77M309.77,71.63H311.49M311.49,71.89H313.22M313.22,71.63H314.96M314.96,72.39H316.70M316.70,74.87H318.45M318.45,76.14H320.21" stroke="#9a3498" stroke-width="0.95" fill="none"/><path d="M204.10,40.56V41.95M205.40,41.60V41.95M206.71,41.20V42.37M208.02,41.38V42.45M209.33,41.51V42.16M210.65,42.52V43.49M211.98,42.82V43.35M213.31,42.71V43.65M214.65,42.71V43.77M215.99,43.18V44.67M217.34,44.00V44.81M218.69,44.05V44.57M220.05,45.30V45.77M221.42,44.90V45.45M222.79,45.45V46.86M224.16,45.99V47.41M225.54,46.19V46.58M226.93,47.29V48.11M228.32,47.57V48.45M229.72,47.26V48.04M231.12,47.05V48.80M232.53,48.49V49.44M233.94,48.64V49.67M235.36,48.02V49.89M236.79,49.05V51.10M238.22,49.46V50.99M239.66,50.01V50.57M241.10,50.64V52.69M242.55,49.99V52.19M244.00,51.67V52.79M245.46,51.05V53.52M246.93,51.26V53.78M248.40,51.84V53.25M249.88,53.27V54.36M251.36,52.44V55.05M252.85,53.46V55.96M254.34,54.35V55.43M255.85,54.80V55.95M257.35,55.72V57.18M258.87,55.19V56.22M260.39,54.93V56.75M261.91,55.59V56.56M263.44,54.52V57.76M264.98,56.23V57.81M266.53,56.10V57.85M268.08,56.72V57.72M269.63,57.21V59.27M271.19,55.95V59.34M272.76,57.04V58.98M274.34,59.23V60.71M275.92,57.50V61.72M277.51,59.82V61.51M279.10,58.11V62.14M280.70,58.15V63.29M282.31,58.49V63.76M283.92,61.44V63.66M285.54,62.17V64.02M287.17,62.86V65.38M288.80,62.89V67.07M290.44,63.08V65.68M292.09,64.38V66.89M293.74,65.92V68.02M295.40,64.50V68.96M297.06,63.49V69.37M298.73,64.20V69.59M300.41,66.09V69.57M302.10,67.28V69.48M303.79,65.43V72.52M305.49,67.15V73.22M307.20,67.51V73.08M308.91,68.74V74.04M310.63,70.43V72.82M312.36,70.08V73.70M314.09,67.95V75.31M315.83,69.81V74.97M317.58,70.76V78.98M319.33,71.57V80.71" stroke="#9a3498" stroke-width="0.7" fill="none"/></g>
<path d="M33.5,239.9V4.5H349.0M33.0,239.9H349.5" fill="none" stroke="#8a8a8a" stroke-width="1"/><path d="M349.5,4.0V240.4" fill="none" stroke="#b4b4b4" stroke-width="1"/><path d="M37.42,239.9v-2M37.42,4.5v2M73.11,239.9v-2M73.11,4.5v2M98.44,239.9v-2M98.44,4.5v2M118.08,239.9v-2M118.08,4.5v2M134.13,239.9v-2M134.13,4.5v2M147.70,239.9v-2M147.70,4.5v2M159.46,239.9v-2M159.46,4.5v2M169.82,239.9v-2M169.82,4.5v2M179.10,239.9v-4M179.10,4.5v4M240.12,239.9v-2M240.12,4.5v2M275.81,239.9v-2M275.81,4.5v2M301.14,239.9v-2M301.14,4.5v2M320.78,239.9v-2M320.78,4.5v2M336.83,239.9v-2M336.83,4.5v2M33.5,218.20h4M349.5,218.20h-4M33.5,196.77h2M349.5,196.77h-2M33.5,184.23h2M349.5,184.23h-2M33.5,175.33h2M349.5,175.33h-2M33.5,168.43h2M349.5,168.43h-2M33.5,162.80h2M349.5,162.80h-2M33.5,158.03h2M349.5,158.03h-2M33.5,153.90h2M349.5,153.90h-2M33.5,150.26h2M349.5,150.26h-2M33.5,147.00h4M349.5,147.00h-4M33.5,125.57h2M349.5,125.57h-2M33.5,113.03h2M349.5,113.03h-2M33.5,104.13h2M349.5,104.13h-2M33.5,97.23h2M349.5,97.23h-2M33.5,91.60h2M349.5,91.60h-2M33.5,86.83h2M349.5,86.83h-2M33.5,82.70h2M349.5,82.70h-2M33.5,79.06h2M349.5,79.06h-2M33.5,75.80h4M349.5,75.80h-4M33.5,54.37h2M349.5,54.37h-2M33.5,41.83h2M349.5,41.83h-2M33.5,32.93h2M349.5,32.93h-2M33.5,26.03h2M349.5,26.03h-2M33.5,20.40h2M349.5,20.40h-2M33.5,15.63h2M349.5,15.63h-2M33.5,11.50h2M349.5,11.50h-2M33.5,7.86h2M349.5,7.86h-2M33.5,239.63h2M349.5,239.63h-2M33.5,234.00h2M349.5,234.00h-2M33.5,229.23h2M349.5,229.23h-2M33.5,225.10h2M349.5,225.10h-2M33.5,221.46h2M349.5,221.46h-2M33.5,4.60h4M349.5,4.60h-4" stroke="#8a8a8a" stroke-width="1" fill="none"/>
<g opacity="0.995"><text x="37.22" y="251.2" text-anchor="middle" font-family="Liberation Serif" font-size="11" fill="#000" stroke="#000" stroke-width="0.08">2</text><text x="117.88" y="251.2" text-anchor="middle" font-family="Liberation Serif" font-size="11" fill="#000" stroke="#000" stroke-width="0.08">5</text><text x="178.90" y="251.2" text-anchor="middle" font-family="Liberation Serif" font-size="11" fill="#000" stroke="#000" stroke-width="0.08">10</text><text x="239.92" y="251.2" text-anchor="middle" font-family="Liberation Serif" font-size="11" fill="#000" stroke="#000" stroke-width="0.08">20</text><text x="320.58" y="251.2" text-anchor="middle" font-family="Liberation Serif" font-size="11" fill="#000" stroke="#000" stroke-width="0.08">50</text><text transform="translate(26.7,4.90) rotate(-90)" x="0" y="0" text-anchor="middle" font-family="Liberation Serif" font-size="11" fill="#000" stroke="#000" stroke-width="0.08">10</text><text transform="translate(26.7,76.00) rotate(-90)" x="0" y="0" text-anchor="middle" font-family="Liberation Serif" font-size="11" fill="#000" stroke="#000" stroke-width="0.08">1</text><text transform="translate(26.7,147.80) rotate(-90)" x="0" y="0" text-anchor="middle" font-family="Liberation Serif" font-size="11" fill="#000" stroke="#000" stroke-width="0.08">0.1</text><text transform="translate(26.7,219.00) rotate(-90)" x="0" y="0" text-anchor="middle" font-family="Liberation Serif" font-size="11" fill="#000" stroke="#000" stroke-width="0.08">0.01</text><text x="187.5" y="264" text-anchor="middle" font-family="Liberation Serif" font-size="10.6" fill="#000" stroke="#000" stroke-width="0.08">Energy (keV)</text><text transform="translate(8,132.1) rotate(-90)" text-anchor="middle" font-family="Liberation Serif" font-size="11.1" fill="#000" stroke="#000" stroke-width="0.08">keV<tspan font-size="7" dy="-4">2</tspan><tspan dy="4"> (Photons cm</tspan><tspan font-size="7" dy="-4">-2</tspan><tspan dy="4"> s</tspan><tspan font-size="7" dy="-4">-1</tspan><tspan dy="4"> keV</tspan><tspan font-size="7" dy="-4">-1</tspan><tspan dy="4">)</tspan></text></g>
</svg>
</body></html>
